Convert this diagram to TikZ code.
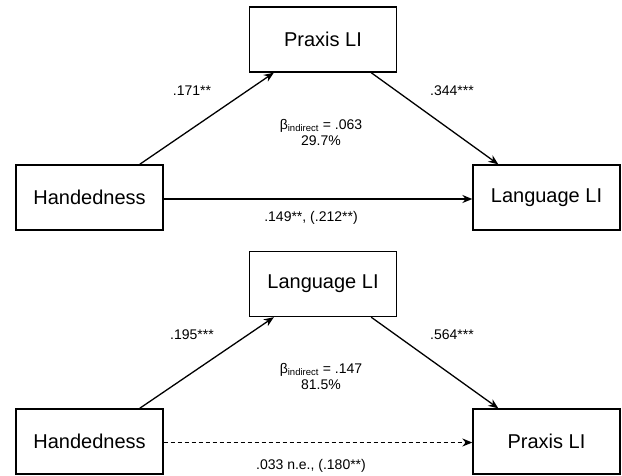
\documentclass[tikz,border=0pt]{standalone}
\usepackage{fontspec}
\setmainfont{Liberation Sans}
\usetikzlibrary{arrows.meta}

\tikzset{
  varbox/.style={draw, line width=1.3pt, minimum width=147pt, minimum height=65pt, inner sep=0pt, font=\fontsize{20}{22}\selectfont},
  coef/.style={font=\fontsize{14}{16}\selectfont, inner sep=0pt},
  path/.style={line width=1.3pt, -{Stealth[length=10pt, width=8pt]}},
}
\newcommand{\bind}{β\textsubscript{\fontsize{9.5}{10}\selectfont indirect}}

\begin{document}
\begin{tikzpicture}[x=1pt, y=-1pt]
        \useasboundingbox (0,0) rectangle (622,475);

        % Top model: Praxis LI as mediator
        \node[varbox] (prax1) at (323, 39.5) {Praxis LI};
        \node[varbox] (hand1) at (89.5, 197.5) {Handedness};
        \node[varbox] (lang1) at (546.5, 197.5) {Language LI};

        \draw[path] ([xshift=-24pt]hand1.north east) -- ([xshift=25pt]prax1.south west);
        \draw[path] ([xshift=-26pt]prax1.south east) -- ([xshift=26pt]lang1.north west);
        \draw[path] ([yshift=-1.5pt]hand1.east) -- ([yshift=-1.5pt]lang1.west);

        \node[coef] (a1) at (192, 91) {.171**};
        \node[coef] (b1) at (452, 91) {.344***};
        \node[coef, align=center] (ind1) at (321, 132) {\bind{} = .063\\29.7\%};
        \node[coef] (c1) at (311, 218) {.149**, (.212**)};

        % Bottom model: Language LI as mediator
        \node[varbox] (lang2) at (323, 284) {Language LI};
        \node[varbox] (hand2) at (89.5, 441.5) {Handedness};
        \node[varbox] (prax2) at (546.5, 441.5) {Praxis LI};

        \draw[path] ([xshift=-24pt]hand2.north east) -- ([xshift=25pt]lang2.south west);
        \draw[path] ([xshift=-26pt]lang2.south east) -- ([xshift=26pt]prax2.north west);
        \draw[path, dash pattern=on 4pt off 3pt] ([yshift=-1pt]hand2.east) -- ([yshift=-1pt]prax2.west);

        \node[coef] (a2) at (192, 335) {.195***};
        \node[coef] (b2) at (452, 335) {.564***};
        \node[coef, align=center] (ind2) at (321, 376) {\bind{} = .147\\81.5\%};
        \node[coef] (c2) at (311, 466) {.033 n.e., (.180**)};
\end{tikzpicture}
\end{document}
